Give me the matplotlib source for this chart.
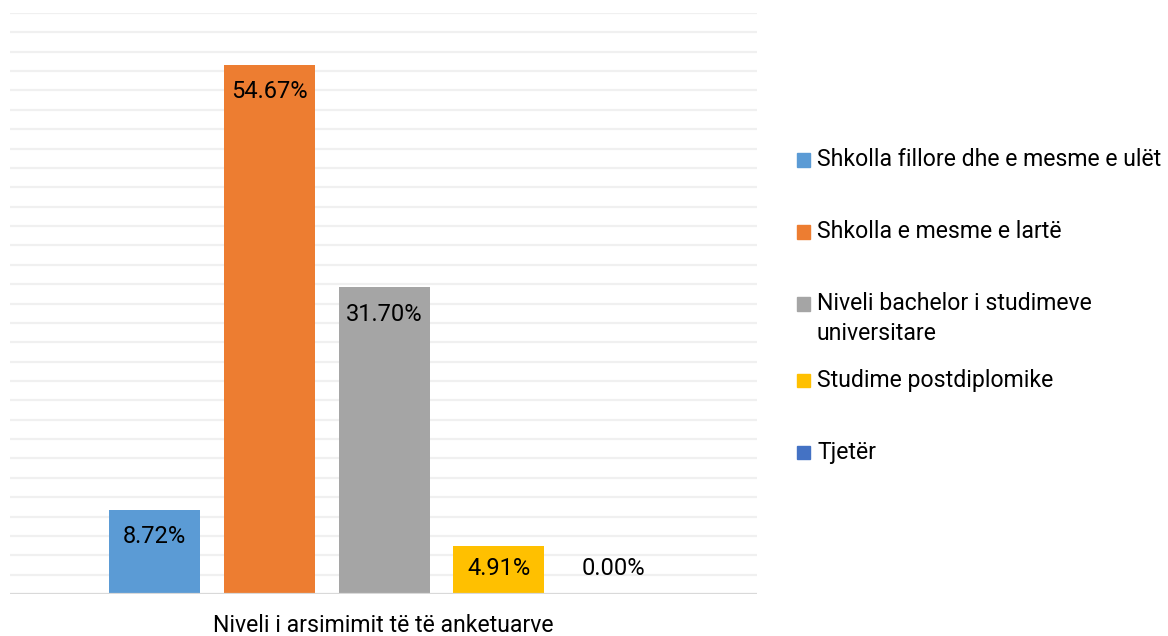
import matplotlib
matplotlib.use("Agg")
import matplotlib.pyplot as plt
from matplotlib.patches import Rectangle

plt.rcParams['font.family'] = ['Roboto', 'DejaVu Sans']

categories = [
    "Shkolla fillore dhe e mesme e ulët",
    "Shkolla e mesme e lartë",
    "Niveli bachelor i studimeve\nuniversitare",
    "Studime postdiplomike",
    "Tjetër",
]
values = [8.72, 54.67, 31.70, 4.91, 0.00]
value_labels = ["8.72%", "54.67%", "31.70%", "4.91%", "0.00%"]
colors = ["#5B9BD5", "#ED7D31", "#A5A5A5", "#FFC000", "#4472C4"]
axis_title = "Niveli i arsimimit të të anketuarve"

W, H = 1168, 636
fig = plt.figure(figsize=(W / 100, H / 100), dpi=100)
ax = fig.add_axes([10 / W, 1 - 594 / H, (757 - 10) / W, (594 - 13) / H])

x = list(range(len(values)))
ax.bar(x, values, width=0.793, color=colors, zorder=3)
ax.set_ylim(0, 60)
ax.set_xlim(-1.26, 5.25)

# gridlines every 2%
for g in range(2, 61, 2):
    ax.axhline(g, color="#F0F0F0", lw=1.6, zorder=1)
ax.axhline(0, color="#D9D9D9", lw=1.6, zorder=4)

for s in ax.spines.values():
    s.set_visible(False)
ax.set_xticks([])
ax.set_yticks([])

px_per_unit = (594 - 13) / 60.0
for xi, v, lab in zip(x, values, value_labels):
    y = max(v - 27 / px_per_unit, 2.6)
    ax.text(xi, y, lab, ha="center", va="center", fontsize=17, color="#000000", zorder=5)

fig.text((10 + 757) / 2 / W, 1 - 625 / H, axis_title, ha="center", va="center",
         fontsize=16.6, color="#000000")

# legend (manual)
y_cursor = 160
for cat, col in zip(categories, colors):
    lines = cat.split("\n")
    sq = 13
    fig.patches.append(Rectangle((797 / W, 1 - (y_cursor + sq / 2) / H), sq / W, sq / H,
                                 transform=fig.transFigure, color=col, figure=fig))
    for j, line in enumerate(lines):
        fig.text(817 / W, 1 - (y_cursor + 30 * j) / H, line, ha="left", va="center",
                 fontsize=16.6, color="#000000")
    y_cursor += 72 + (len(lines) - 1) * 4

fig.savefig("out.png", dpi=100)
